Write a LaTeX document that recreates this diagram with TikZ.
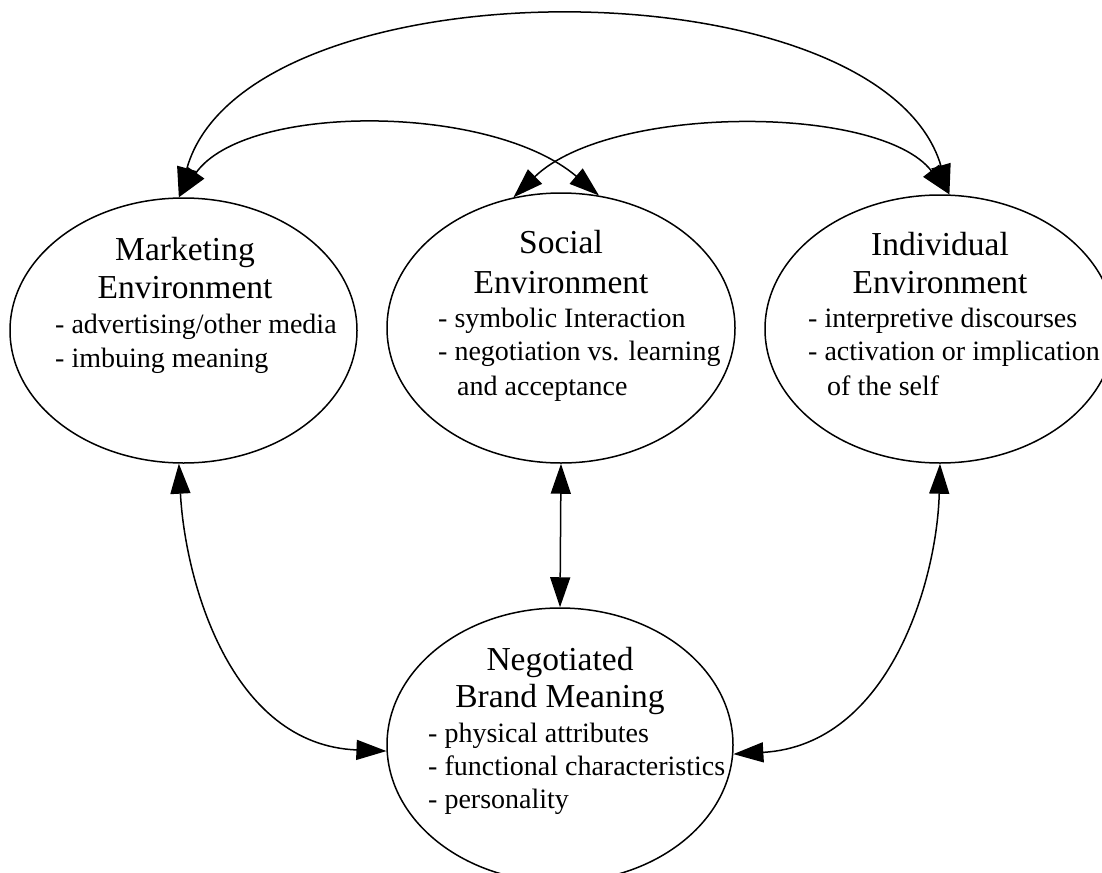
\documentclass[tikz,border=0pt]{standalone}
\usepackage{fontspec}
\setmainfont{Liberation Serif}
\usetikzlibrary{arrows.meta,shapes.geometric}
\begin{document}
\begin{tikzpicture}[x=1pt,y=-1pt,
  env/.style={draw,ellipse,line width=1.5pt,inner sep=0pt},
  ttl/.style={anchor=base,inner sep=0pt,font=\fontsize{33.5}{40}\selectfont},
  bdy/.style={anchor=base west,inner sep=0pt,font=\fontsize{28}{34}\selectfont},
  link/.style={line width=1.5pt,{Triangle[length=30pt,width=20pt]}-{Triangle[length=30pt,width=20pt]}}]
\useasboundingbox (0,0) rectangle (1102,872);
% ellipses
\node[env,minimum width=347pt,minimum height=265pt] (mkt) at (183.5,330.5) {};
\node[env,minimum width=348pt,minimum height=270pt] (soc) at (561,328) {};
\node[env,minimum width=350pt,minimum height=268pt] (ind) at (940,329) {};
\node[env,minimum width=346pt,minimum height=274pt] (neg) at (560,745) {};
% Marketing texts
\node[ttl] (m1) at (185,260) {Marketing};
\node[ttl] (m2) at (185,298) {Environment};
\node[bdy] (m3) at (55,333) {- advertising/other media};
\node[bdy] (m4) at (55,367) {- imbuing meaning};
% Social texts
\node[ttl] (s1) at (561,253) {Social};
\node[ttl] (s2) at (561,293) {Environment};
\node[bdy] (s3) at (438,327) {- symbolic Interaction};
\node[bdy] (s4) at (438,360) {- negotiation vs. learning};
\node[bdy] (s5) at (457,395) {and acceptance};
% Individual texts
\node[ttl] (i1) at (940,255) {Individual};
\node[ttl] (i2) at (940,293) {Environment};
\node[bdy] (i3) at (808,327) {- interpretive discourses};
\node[bdy] (i4) at (808,360) {- activation or implication};
\node[bdy] (i5) at (827,395) {of the self};
% Negotiated texts
\node[ttl] (n1) at (560,670) {Negotiated};
\node[ttl] (n2) at (560,707) {Brand Meaning};
\node[bdy] (n3) at (428,742) {- physical attributes};
\node[bdy] (n4) at (428,775) {- functional characteristics};
\node[bdy] (n5) at (428,808) {- personality};
% connectors
\draw[link] (mkt.92) .. controls (245,-40) and (880,-40) .. (ind.86.5);
\draw[link] (mkt.92) .. controls (245,103) and (490,103) .. (soc.74.6);
\draw[link] (soc.110.4) .. controls (610,104) and (880,104) .. (ind.86.5);
\draw[link] (mkt.268) .. controls (185,580) and (230,745) .. (neg.182.7);
\draw[link] (ind.270) .. controls (937,580) and (890,745) .. (neg.357.4);
\draw[link] (soc.270) -- (neg.90);
\end{tikzpicture}
\end{document}
